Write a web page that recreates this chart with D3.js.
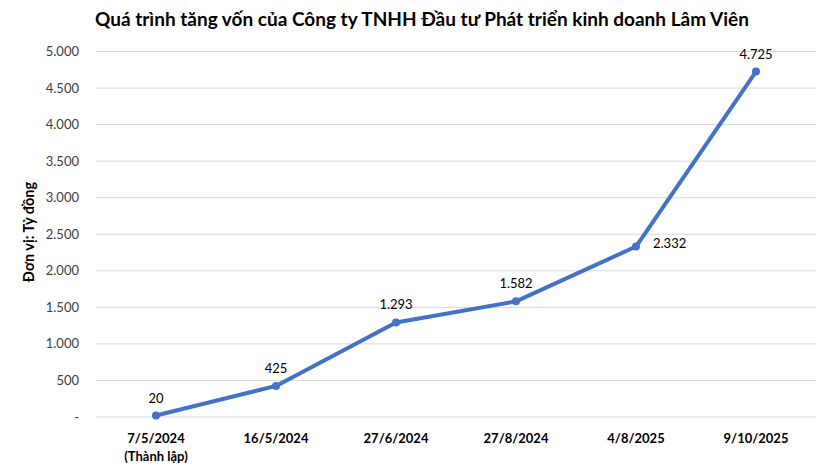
<!DOCTYPE html>
<html><head><meta charset="utf-8">
<script src="https://cdn.jsdelivr.net/npm/d3@7"></script>
<style>body{margin:0;background:#fff;}svg{display:block;}</style>
</head><body>
<script>
const categories = ["7/5/2024", "16/5/2024", "27/6/2024", "27/8/2024", "4/8/2025", "9/10/2025"];
const subLabels = ["(Thành lập)", "", "", "", "", ""];
const values = [20, 425, 1293, 1582, 2332, 4725];
const yTicks = [0, 500, 1000, 1500, 2000, 2500, 3000, 3500, 4000, 4500, 5000];
const title = "Quá trình tăng vốn của Công ty TNHH Đầu tư Phát triển kinh doanh Lâm Viên";
const yTitle = "Đơn vị: Tỷ đồng";

const W = 830, H = 467;
const font = "Lato, 'Open Sans', sans-serif";
const loc = d3.formatLocale({decimal: ",", thousands: ".", grouping: [3], currency: ["", ""]});
const fmt = v => v === 0 ? "-" : loc.format(",")(v);

const svg = d3.select("body").append("svg").attr("width", W).attr("height", H);
const x = d3.scaleBand().domain(categories).range([96, 816]);
const y = d3.scaleLinear().domain([0, 5000]).range([417, 51.5]);

svg.append("text").attr("x", 95).attr("y", 26).attr("font-family", font)
  .attr("font-weight", "bold").attr("font-size", 19).attr("fill", "#000").text(title);

svg.append("g").selectAll("line").data(yTicks).join("line")
  .attr("x1", 96).attr("x2", 816).attr("y1", d => y(d)).attr("y2", d => y(d))
  .attr("stroke", "#d9d9d9").attr("stroke-width", 1);

svg.append("g").selectAll("text").data(yTicks).join("text")
  .attr("x", 79).attr("y", d => y(d) + 4.5).attr("text-anchor", "end")
  .attr("font-family", font).attr("font-size", 13).attr("fill", "#404040").text(fmt);

svg.append("text").attr("transform", "translate(34,232) rotate(-90)").attr("text-anchor", "middle")
  .attr("font-family", font).attr("font-weight", "bold").attr("font-size", 14.5).attr("fill", "#000").text(yTitle);

const cx = d => x(d) + x.bandwidth() / 2;
svg.append("g").selectAll("text").data(categories).join("text")
  .attr("x", cx).attr("y", 443).attr("text-anchor", "middle")
  .attr("font-family", font).attr("font-weight", "bold").attr("font-size", 13).attr("fill", "#000").text(d => d);
svg.append("g").selectAll("text").data(categories).join("text")
  .attr("x", cx).attr("y", 461).attr("text-anchor", "middle")
  .attr("font-family", font).attr("font-weight", "bold").attr("font-size", 13).attr("fill", "#000").text((d, i) => subLabels[i]);

const pts = categories.map((c, i) => [cx(c), y(values[i])]);
svg.append("path").attr("d", d3.line()(pts)).attr("fill", "none")
  .attr("stroke", "#4472C4").attr("stroke-width", 4).attr("stroke-linejoin", "round");
svg.append("g").selectAll("circle").data(pts).join("circle")
  .attr("cx", d => d[0]).attr("cy", d => d[1]).attr("r", 4).attr("fill", "#4472C4");

svg.append("g").selectAll("text").data(values).join("text")
  .attr("x", (d, i) => i === 4 ? pts[i][0] + 17 : pts[i][0])
  .attr("y", (d, i) => i === 4 ? pts[i][1] + 1 : pts[i][1] - 13)
  .attr("text-anchor", (d, i) => i === 4 ? "start" : "middle")
  .attr("font-family", font).attr("font-size", 13).attr("fill", "#000").text(fmt);
</script>
</body></html>
